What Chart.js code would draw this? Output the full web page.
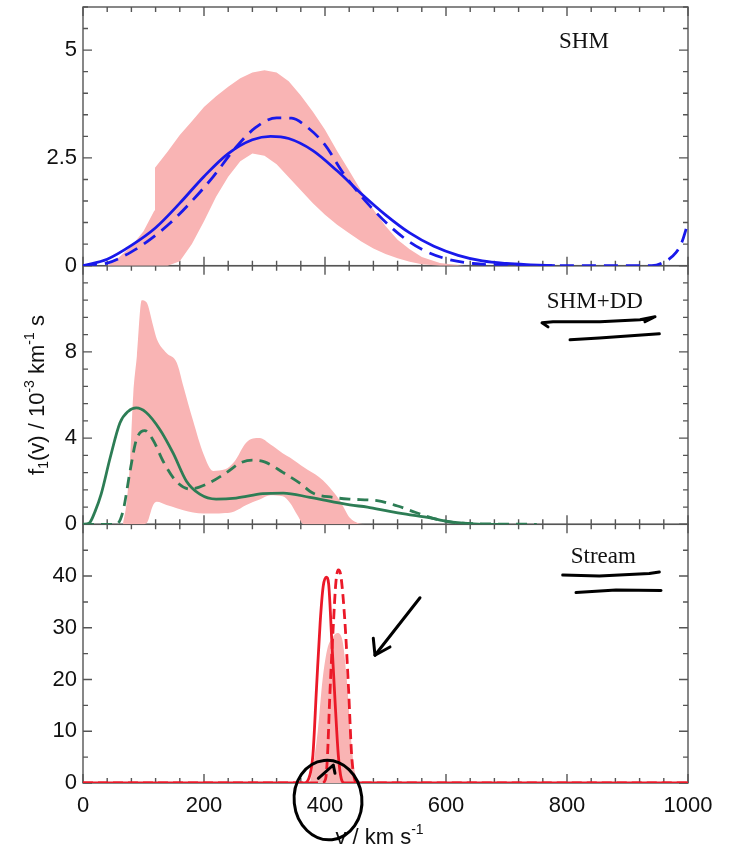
<!DOCTYPE html>
<html>
<head>
<meta charset="utf-8">
<script src="https://cdn.jsdelivr.net/npm/chart.js@4.4.0/dist/chart.umd.min.js"></script>
<style>
  html, body { margin: 0; padding: 0; background: #fff; }
  canvas { display: block; }
</style>
</head>
<body>
<canvas id="fv" width="732" height="855"></canvas>
<script>
// v in km/s, f in 10^-3 km^-1 s

// SHM panel
const shmSolidV = [0, 40, 80, 120, 160, 200, 240, 280, 310, 340, 380, 420, 460, 500, 540, 580, 620, 660, 700, 740, 780];
const shmSolidF = [0, 0.15, 0.47, 0.88, 1.45, 2.07, 2.6, 2.92, 3.0, 2.95, 2.67, 2.2, 1.67, 1.18, 0.76, 0.45, 0.24, 0.11, 0.05, 0.02, 0];
const shmDashV = [0, 40, 80, 110, 145, 180, 215, 250, 285, 320, 345, 370, 400, 430, 470, 520, 560, 600, 645, 700, 760, 850, 940, 960, 980, 990, 1000];
const shmDashF = [0, 0.06, 0.32, 0.6, 1.0, 1.5, 2.06, 2.7, 3.2, 3.43, 3.42, 3.22, 2.8, 2.15, 1.45, 0.76, 0.38, 0.16, 0.05, 0.01, 0, 0, 0, 0.08, 0.3, 0.55, 1.0];
const shmBandV = [40, 60, 80, 100, 118, 119, 140, 160, 180, 200, 220, 240, 260, 280, 300, 320, 340, 360, 380, 400, 420, 440, 460, 480, 500, 520, 540, 560, 590, 630];
const shmBandHi = [0, 0.2, 0.45, 0.8, 1.28, 2.27, 2.65, 3.03, 3.35, 3.68, 3.93, 4.15, 4.35, 4.48, 4.53, 4.48, 4.28, 3.95, 3.57, 3.15, 2.66, 2.2, 1.73, 1.3, 0.92, 0.6, 0.38, 0.2, 0.06, 0];
const shmBandLo = [0, 0, 0, 0, 0, 0, 0, 0.1, 0.5, 1.03, 1.6, 2.06, 2.42, 2.6, 2.55, 2.35, 2.05, 1.75, 1.45, 1.18, 0.95, 0.75, 0.56, 0.4, 0.27, 0.17, 0.09, 0.03, 0, 0];

// SHM+DD panel
const ddSolidV = [0, 10, 20, 30, 45, 61, 75, 88, 104, 127, 149, 171, 193, 220, 253, 297, 331, 375, 441, 470, 507, 534, 574, 595, 628, 660, 700];
const ddSolidF = [0, 0.05, 0.6, 1.4, 3.1, 4.7, 5.25, 5.4, 5.2, 4.4, 3.3, 2.0, 1.4, 1.17, 1.22, 1.42, 1.45, 1.25, 0.9, 0.8, 0.6, 0.47, 0.3, 0.17, 0.05, 0, 0];
const ddDashV = [0, 55, 66, 78, 88, 102, 116, 132, 154, 177, 204, 237, 260, 280, 300, 331, 359, 380, 413, 440, 486, 520, 550, 585, 628, 700, 750];
const ddDashF = [0, 0, 0.6, 2.5, 3.9, 4.35, 3.9, 2.95, 2.0, 1.64, 1.86, 2.4, 2.85, 2.98, 2.9, 2.4, 1.9, 1.45, 1.25, 1.17, 1.1, 0.85, 0.55, 0.23, 0.05, 0.01, 0];
const ddBandV = [66, 72, 78, 83, 89, 97, 105, 116, 122, 138, 155, 166, 182, 199, 215, 235, 250, 270, 292, 310, 330, 342, 355, 365, 390, 403, 425, 441, 455, 470];
const ddBandHi = [0, 1.0, 3.0, 6.0, 7.8, 10.4, 10.3, 9.2, 8.6, 7.95, 7.5, 6.4, 4.8, 3.27, 2.48, 2.55, 2.9, 3.8, 4.0, 3.7, 3.3, 3.1, 2.85, 2.65, 2.2, 1.86, 1.08, 0.3, 0.05, 0];
const ddBandLo = [0, 0, 0, 0, 0, 0, 0.05, 0.9, 1.05, 0.9, 0.75, 0.65, 0.55, 0.5, 0.5, 0.52, 0.6, 0.9, 1.15, 1.35, 1.3, 1.0, 0.4, 0, 0, 0, 0, 0, 0, 0];

// Stream panel
const stSolidV = [0, 365, 373, 380, 386, 392, 397, 402, 406, 411, 417, 422, 427, 432, 1000];
const stSolidF = [0, 0, 0.8, 5.4, 18.4, 31, 38, 39.8, 38.5, 28, 15, 5.4, 0.8, 0, 0];
const stDashV = [0, 395, 401, 404, 408, 414, 418, 422, 426, 433, 439, 444, 448, 453, 1000];
const stDashF = [0, 0, 0.8, 5, 17, 31, 38.8, 41.2, 40.2, 31, 18, 5.4, 1.2, 0, 0];
const stBandV = [375, 380, 388, 396, 404, 412, 420, 428, 436, 442, 448, 454];
const stBandHi = [0, 3, 10, 20, 26, 28, 29, 28, 20, 10, 3, 0];
const stBandLo = [0, 0, 0, 0, 0, 0, 0, 0, 0, 0, 0, 0];

const panelLabels = ['SHM', 'SHM+DD', 'Stream'];
const xTicks = [0, 200, 400, 600, 800, 1000];

// hand-drawn marks on the figure, in data units of the panel they sit in
const scribbles = [
    { axis: 'yDD', v: [768.6, 758.7, 776.9, 854.5, 920.7, 945.5, 928.9], f: [9.16, 9.35, 9.4, 9.4, 9.49, 9.63, 9.4] },
    { axis: 'yDD', v: [805, 853.4, 952.6], f: [8.56, 8.64, 8.84] },
    { axis: 'yStream', v: [792.9, 853.4, 936, 952.6], f: [40.2, 40.0, 40.5, 40.8] },
    { axis: 'yStream', v: [814.9, 881, 955.4], f: [36.8, 37.3, 37.2] },
    { axis: 'yStream', v: [557, 482.6], f: [35.8, 24.7] },
    { axis: 'yStream', v: [479.8, 482.6, 507.4], f: [28.0, 24.7, 26.3] },
    { axis: 'yStream', v: [389, 413.7, 416.5], f: [0.9, 3.48, 1.88] }
];
const circleMark = { axis: 'yStream', v: 405, f: -3.3, rv: 56, rf: 7.7 };

const BLUE = 'rgb(25,25,235)';
const GREEN = 'rgb(45,125,85)';
const RED = 'rgb(235,25,40)';
const PINK = 'rgb(249,180,180)';

const pts = (vs, fs) => vs.map((v, i) => ({ x: v, y: fs[i] }));

function line(vs, fs, axis, color, dash) {
    return {
        data: pts(vs, fs), yAxisID: axis, borderColor: color, borderWidth: 2.8,
        borderDash: dash || [], pointRadius: 0, fill: false,
        cubicInterpolationMode: 'monotone', order: dash ? 2 : 1
    };
}
function band(vs, lo, hi, axis, smooth) {
    const curve = smooth ? { cubicInterpolationMode: 'monotone' } : { tension: 0 };
    return [
        { data: pts(vs, lo), yAxisID: axis, borderWidth: 0, borderColor: 'rgba(0,0,0,0)', pointRadius: 0, fill: false, order: 3, ...curve },
        { data: pts(vs, hi), yAxisID: axis, borderWidth: 0, borderColor: 'rgba(0,0,0,0)', backgroundColor: PINK, pointRadius: 0, fill: '-1', order: 3, ...curve }
    ];
}

const minorStep = { yShm: 0.5, yDD: 0.8, yStream: 5 };
const majorStep = { yShm: 2.5, yDD: 4, yStream: 10 };
const panelIds = ['yShm', 'yDD', 'yStream'];

const SANS = '"Liberation Sans", Arial, Helvetica, sans-serif';

function yAxis(max, step) {
    return {
        type: 'linear', position: 'left', stack: 'panels', stackWeight: 1,
        min: 0, max: max,
        ticks: {
            stepSize: step, autoSkip: false, padding: 6, color: '#111',
            font: { family: SANS, size: 22 },
            callback: v => (v === max ? '' : String(v))
        },
        grid: { display: false, drawTicks: false },
        border: { display: false },
        afterFit: s => { s.width = 83; s.paddingTop = 0; s.paddingBottom = 0; }
    };
}

const framePlugin = {
    id: 'frame',
    beforeDatasetsDraw(chart) {
        const ctx = chart.ctx, xs = chart.scales.x;
        ctx.save();
        ctx.strokeStyle = '#555';
        ctx.lineWidth = 1.4;
        for (const id of panelIds) {
            const ys = chart.scales[id];
            ctx.strokeRect(xs.left, ys.top, xs.right - xs.left, ys.bottom - ys.top);
            ctx.beginPath();
            for (let k = 0; k <= 25; k++) {
                const v = k * 40;
                const px = xs.getPixelForValue(v);
                const len = v % 200 === 0 ? 9 : 5;
                ctx.moveTo(px, ys.bottom); ctx.lineTo(px, ys.bottom - len);
                ctx.moveTo(px, ys.top); ctx.lineTo(px, ys.top + len);
            }
            const n = Math.round(ys.max / minorStep[id]);
            for (let k = 0; k <= n; k++) {
                const f = k * minorStep[id];
                const py = ys.getPixelForValue(f);
                const major = Math.abs(f / majorStep[id] - Math.round(f / majorStep[id])) < 1e-6;
                const len = major ? 9 : 5;
                ctx.moveTo(xs.left, py); ctx.lineTo(xs.left + len, py);
                ctx.moveTo(xs.right, py); ctx.lineTo(xs.right - len, py);
            }
            ctx.stroke();
        }
        ctx.restore();
    }
};

// text made of runs: [text, font size, vertical shift]
function richText(ctx, parts, cx, cy) {
    let w = 0;
    for (const p of parts) {
        ctx.font = p[1] + 'px ' + SANS;
        w += ctx.measureText(p[0]).width;
    }
    let x = cx - w / 2;
    ctx.textAlign = 'left';
    ctx.textBaseline = 'middle';
    for (const p of parts) {
        ctx.font = p[1] + 'px ' + SANS;
        ctx.fillText(p[0], x, cy + p[2]);
        x += ctx.measureText(p[0]).width;
    }
}

const textPlugin = {
    id: 'texts',
    afterDraw(chart) {
        const ctx = chart.ctx, xs = chart.scales.x;
        ctx.save();
        ctx.fillStyle = '#111';

        // panel names
        ctx.font = '23px "Liberation Serif", "Times New Roman", serif';
        ctx.textAlign = 'center';
        ctx.textBaseline = 'middle';
        const labelPos = [[828, 5.2], [846, 10.3], [860, 43.7]];
        panelIds.forEach((id, i) => {
            const ys = chart.scales[id];
            ctx.fillText(panelLabels[i], xs.getPixelForValue(labelPos[i][0]), ys.getPixelForValue(labelPos[i][1]));
        });

        // x title
        richText(ctx, [['v / km s', 22, 0], ['-1', 14, -8]], (xs.left + xs.right) / 2 - 6, 838);

        // y title
        ctx.translate(38, (chart.scales.yShm.top + chart.scales.yStream.bottom) / 2);
        ctx.rotate(-Math.PI / 2);
        richText(ctx, [['f', 22, 0], ['1', 14, 6], ['(v) / 10', 22, 0], ['-3', 14, -8], [' km', 22, 0], ['-1', 14, -8], [' s', 22, 0]], 0, 0);
        ctx.restore();

        // hand-drawn marks
        ctx.save();
        ctx.strokeStyle = '#000';
        ctx.lineWidth = 3;
        ctx.lineCap = 'round';
        ctx.lineJoin = 'round';
        for (const s of scribbles) {
            const ys = chart.scales[s.axis];
            ctx.beginPath();
            s.v.forEach((v, i) => {
                const px = xs.getPixelForValue(v), py = ys.getPixelForValue(s.f[i]);
                if (i === 0) ctx.moveTo(px, py); else ctx.lineTo(px, py);
            });
            ctx.stroke();
        }
        const cy = chart.scales[circleMark.axis];
        const ccx = xs.getPixelForValue(circleMark.v), ccy = cy.getPixelForValue(circleMark.f);
        const rx = xs.getPixelForValue(circleMark.v + circleMark.rv) - ccx;
        const ry = cy.getPixelForValue(circleMark.f) - cy.getPixelForValue(circleMark.f + circleMark.rf);
        ctx.beginPath();
        ctx.ellipse(ccx, ccy, rx, ry, -0.1, 0, Math.PI * 2);
        ctx.stroke();
        ctx.restore();
    }
};

new Chart(document.getElementById('fv'), {
    type: 'line',
    data: {
        datasets: [
            ...band(shmBandV, shmBandLo, shmBandHi, 'yShm', false),
            line(shmSolidV, shmSolidF, 'yShm', BLUE),
            line(shmDashV, shmDashF, 'yShm', BLUE, [14, 8]),
            ...band(ddBandV, ddBandLo, ddBandHi, 'yDD', true),
            line(ddSolidV, ddSolidF, 'yDD', GREEN),
            line(ddDashV, ddDashF, 'yDD', GREEN, [11, 7]),
            ...band(stBandV, stBandLo, stBandHi, 'yStream', true),
            line(stSolidV, stSolidF, 'yStream', RED),
            line(stDashV, stDashF, 'yStream', RED, [10, 5])
        ]
    },
    options: {
        responsive: false,
        devicePixelRatio: 1,
        animation: false,
        events: [],
        layout: { padding: { left: 0, right: 44, top: 7, bottom: 0 } },
        plugins: { legend: { display: false }, tooltip: { enabled: false } },
        scales: {
            x: {
                type: 'linear', position: 'bottom', min: 0, max: 1000,
                afterBuildTicks: s => { s.ticks = xTicks.map(v => ({ value: v })); },
                ticks: { padding: 10, color: '#111', font: { family: SANS, size: 22 }, maxRotation: 0, autoSkip: false, callback: v => String(v) },
                grid: { display: false, drawTicks: false },
                border: { display: false },
                afterFit: s => { s.height = 72; }
            },
            yStream: yAxis(50, 10),
            yDD: yAxis(12, 4),
            yShm: yAxis(6, 2.5)
        }
    },
    plugins: [framePlugin, textPlugin]
});
</script>
</body>
</html>
